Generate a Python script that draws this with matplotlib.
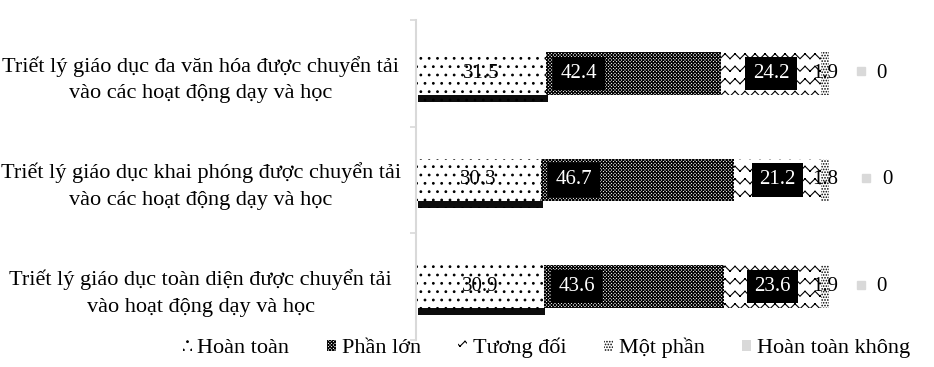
import numpy as np
import matplotlib.pyplot as plt
import matplotlib.patheffects as pe
import matplotlib.hatch as mhatch
from matplotlib.path import Path
from matplotlib.patches import Patch

plt.rcParams['font.family'] = ['Liberation Serif', 'DejaVu Serif']
plt.rcParams['hatch.linewidth'] = 0.8


# zigzag hatch, takes the place of the '*' pattern
# every stroke is its own subpath so agg does not fill the teeth
class ZigZag(mhatch.HatchPatternBase):
    def __init__(self, hatch, density):
        self.num_rows = int(hatch.count('*') * density * 1.4)
        self.teeth = int(self.num_rows * 1.3)
        self.num_vertices = self.num_rows * 4 * self.teeth

    def set_vertices_and_codes(self, vertices, codes):
        npt = 2 * self.teeth + 1
        xs = np.linspace(0, 1, npt)
        amp = 0.4 / self.num_rows
        k = 0
        for r in range(self.num_rows):
            base = (r + 0.3) / self.num_rows
            ys = base + amp * (np.arange(npt) % 2)
            for s in range(npt - 1):
                vertices[k] = (xs[s], ys[s])
                vertices[k + 1] = (xs[s + 1], ys[s + 1])
                codes[k] = Path.MOVETO
                codes[k + 1] = Path.LINETO
                k += 2


mhatch._hatch_types = [h for h in mhatch._hatch_types if h is not mhatch.Stars] + [ZigZag]

categories = ['Triết lý giáo dục đa văn hóa được chuyển tải\nvào các hoạt động dạy và học',
              'Triết lý giáo dục khai phóng được chuyển tải\nvào các hoạt động dạy và học',
              'Triết lý giáo dục toàn diện được chuyển tải\nvào hoạt động dạy và học']
series = ['Hoàn toàn', 'Phần lớn', 'Tương đối', 'Một phần', 'Hoàn toàn không']
hoan_toan = [31.5, 30.3, 30.9]
phan_lon = [42.4, 46.7, 43.6]
tuong_doi = [24.2, 21.2, 23.6]
mot_phan = [1.9, 1.8, 1.9]
hoan_toan_khong = [0, 0, 0]

values = [hoan_toan, phan_lon, tuong_doi, mot_phan, hoan_toan_khong]
faces = ['white', 'white', 'white', 'white', '#d9d9d9']
hatches = ['..', 'x' * 10, '*', '......', None]

fig = plt.figure(figsize=(9.34, 3.67), dpi=100)
ax = fig.add_axes([0.4454, 0.0736, 0.548, 0.872])

box = dict(boxstyle='square,pad=0.35', fc='black', ec='none')
y = np.arange(len(categories))
left = np.zeros(len(categories))
for i, vals in enumerate(values):
    vals = np.array(vals)
    bars = ax.barh(y, vals, left=left, height=0.4, color=faces[i],
                   edgecolor='black' if hatches[i] else faces[i],
                   linewidth=0, hatch=hatches[i])
    if i == 0:
        for b in bars:
            b.set_path_effects([pe.SimplePatchShadow(offset=(1.2, -5), shadow_rgbFace='black', alpha=0.95),
                                pe.Normal()])
    for j, v in enumerate(vals):
        if i == 0 or i == 3:
            ax.text(left[j] + v / 2, y[j], f'{v:.1f}', ha='center', va='center', fontsize=15)
        elif i == 1:
            ax.text(left[j] + 8, y[j], f'{v:.1f}', ha='center', va='center', fontsize=15,
                    color='white', bbox=box)
        elif i == 2:
            ax.text(left[j] + v / 2, y[j], f'{v:.1f}', ha='center', va='center', fontsize=15,
                    color='white', bbox=box)
        else:
            dx = 1.3 if j == 1 else 0
            ax.plot(left[j] + 7.8 + dx, y[j] - 0.02, 's', ms=6, color='#d9d9d9')
            ax.text(left[j] + 12.8 + dx, y[j], f'{v:g}', ha='center', va='center', fontsize=15)
    left = left + vals

ax.set_xlim(0, 124)
ax.set_ylim(2.5, -0.5)
ax.set_xticks([])
ax.set_yticks(y)
ax.set_yticklabels(categories, ha='center', multialignment='center', fontsize=16, linespacing=1.55)
ax.tick_params(axis='y', which='major', length=0, pad=155)
ax.set_yticks([-0.5, 0.5, 1.5, 2.5], minor=True)
ax.tick_params(axis='y', which='minor', length=4, width=1.2, color='#d9d9d9')
for s in ['top', 'right', 'bottom']:
    ax.spines[s].set_visible(False)
ax.spines['left'].set_color('#d9d9d9')
ax.spines['left'].set_linewidth(1.5)

handles = [Patch(facecolor=faces[i], edgecolor='black' if hatches[i] else faces[i],
                 linewidth=0, hatch=hatches[i], label=series[i]) for i in range(len(series))]
fig.legend(handles=handles, loc='center', bbox_to_anchor=(0.585, 0.052), ncol=5, frameon=False,
           fontsize=16, handlelength=0.4, handleheight=0.4, handletextpad=0.25, columnspacing=1.7)

fig.savefig('out.png', dpi=100)
